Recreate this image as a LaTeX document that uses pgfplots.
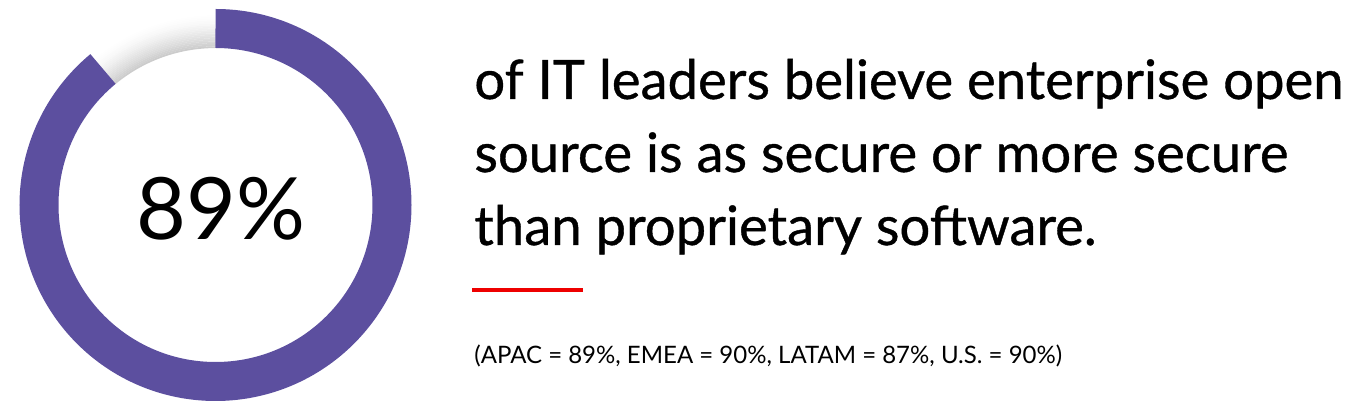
\documentclass[border=0pt]{standalone}
\usepackage{fontspec}
\setmainfont{Lato}
\newfontfamily\med[FakeBold=0.7]{Lato}
\usepackage{pgfplots}
\pgfplotsset{compat=1.18}
\definecolor{ringpurple}{HTML}{5C4F9F}
\definecolor{rhred}{HTML}{EE0000}
\pgfmathsetmacro{\share}{89}
\pgfmathsetmacro{\endang}{90-3.6*\share}
\begin{document}
\begin{tikzpicture}
\begin{axis}[hide axis, scale only axis, width=678.5pt, height=205.5pt,
  xmin=0, xmax=1357, ymin=0, ymax=411, y dir=reverse, clip=false]
  \path (rel axis cs:0,0) rectangle (rel axis cs:1,1);
  \coordinate (c) at (axis cs:215.5,205);
  \coordinate (t1) at (axis cs:474,99);
  \coordinate (t2) at (axis cs:474,172);
  \coordinate (t3) at (axis cs:474,245);
  \coordinate (big) at (axis cs:136,240);
  \coordinate (r1) at (axis cs:472,290);
  \coordinate (r2) at (axis cs:583,290);
  \coordinate (s) at (axis cs:474,364);
\end{axis}
% grey remainder, fading outward
\foreach \i in {0,...,23}{
  \pgfmathsetmacro{\ff}{max(0,1-\i/20)}
  \pgfmathsetmacro{\gg}{20*\ff*sqrt(\ff)}
  \pgfmathsetmacro{\rr}{0.5*(157+(\i+0.5)*39/24)}
  \draw[color=black!\gg, line width=0.9pt] (c) ++(90:\rr pt) arc[start angle=90, end angle=90+3.6*(100-\share), radius=\rr pt];
}
\draw[ringpurple, line width=19.5pt] (c) ++(90:88.25pt) arc[start angle=90, end angle=\endang, radius=88.25pt];
\node[anchor=base west, inner sep=0pt, font=\fontsize{43}{43}\selectfont] at (big) {89\%};
\node[anchor=base west, inner sep=0pt, font=\med\fontsize{27.2}{27}\selectfont] at (t1) {of IT leaders believe enterprise open};
\node[anchor=base west, inner sep=0pt, font=\med\fontsize{27.2}{27}\selectfont] at (t2) {source is as secure or more secure};
\node[anchor=base west, inner sep=0pt, font=\med\fontsize{27.2}{27}\selectfont] at (t3) {than proprietary software.};
\draw[rhred, line width=1.75pt] (r1) -- (r2);
\node[anchor=base west, inner sep=0pt, font=\fontsize{12}{12}\selectfont] at (s) {(APAC = 89\%, EMEA = 90\%, LATAM = 87\%, U.S. = 90\%)};
\end{tikzpicture}
\end{document}
